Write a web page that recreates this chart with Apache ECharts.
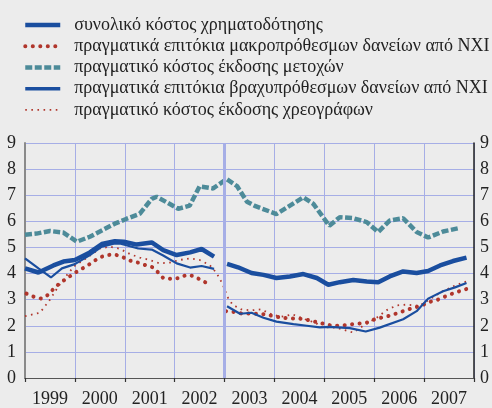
<!DOCTYPE html>
<html>
<head>
<meta charset="utf-8">
<script src="https://cdn.jsdelivr.net/npm/echarts@6/dist/echarts.min.js"></script>
<style>
html,body{margin:0;padding:0;background:#ECECEC;}
#c{width:492px;height:408px;}
</style>
</head>
<body>
<div id="c"></div>
<script>
// Year labels (x axis) and y ticks
var years = ['1999','2000','2001','2002','2003','2004','2005','2006','2007'];
var yTicks = [0,1,2,3,4,5,6,7,8,9];

var seriesNames = [
  'συνολικό κόστος χρηματοδότησης',
  'πραγματικά επιτόκια μακροπρόθεσμων δανείων από ΝΧΙ',
  'πραγματικό κόστος έκδοσης μετοχών',
  'πραγματικά επιτόκια βραχυπρόθεσμων δανείων από ΝΧΙ',
  'πραγματικό κόστος έκδοσης χρεογράφων'
];

// null value = series break (2003 methodological break)
var totalT = [1999.00,1999.27,1999.57,1999.77,2000.00,2000.30,2000.54,2000.80,2000.98,2001.24,2001.54,2001.77,2002.04,2002.31,2002.54,2002.79,2002.9,
              2003.05,2003.27,2003.54,2003.78,2004.04,2004.31,2004.58,2004.85,2005.08,2005.31,2005.58,2005.85,2006.08,2006.31,2006.58,2006.85,2007.08,2007.32,2007.58,2007.85];
var totalV = [4.20,4.04,4.31,4.46,4.52,4.81,5.13,5.24,5.22,5.11,5.19,4.90,4.71,4.81,4.94,4.65,null,
              4.37,4.24,4.02,3.95,3.83,3.89,3.98,3.83,3.57,3.67,3.75,3.70,3.67,3.89,4.08,4.02,4.10,4.31,4.48,4.61];

var longT = [1999.03,1999.18,1999.33,1999.47,1999.57,1999.69,1999.82,1999.96,2000.09,2000.24,2000.37,2000.50,2000.65,2000.80,2000.94,2001.10,2001.25,2001.40,2001.56,2001.67,2001.77,2001.94,2002.09,2002.24,2002.37,2002.52,2002.66,2002.85,
             2003.03,2003.19,2003.34,2003.51,2003.66,2003.82,2003.98,2004.14,2004.30,2004.46,2004.61,2004.76,2004.92,2005.08,2005.24,2005.40,2005.55,2005.71,2005.88,2006.01,2006.18,2006.35,2006.48,2006.65,2006.78,2006.95,2007.08,2007.25,2007.38,2007.55,2007.70,2007.85];
var longV = [3.23,3.11,3.04,3.19,3.41,3.62,3.79,3.98,4.13,4.29,4.46,4.62,4.71,4.73,4.65,4.50,4.43,4.33,4.24,4.04,3.83,3.79,3.83,3.95,3.91,3.76,3.62,null,
             2.56,2.53,2.47,2.47,2.46,2.44,2.37,2.31,2.28,2.28,2.25,2.18,2.11,2.03,2.00,2.02,2.06,2.09,2.13,2.25,2.33,2.40,2.50,2.60,2.69,2.77,2.90,2.98,3.09,3.22,3.32,3.41];

var sharesT = [1999.00,1999.23,1999.50,1999.77,2000.04,2000.30,2000.57,2000.80,2001.04,2001.30,2001.54,2001.64,2001.84,2002.07,2002.30,2002.50,2002.77,2003.04,2003.25,2003.45,2003.62,2004.04,2004.58,2004.78,2005.10,2005.31,2005.58,2005.85,2006.08,2006.31,2006.58,2006.85,2007.08,2007.38,2007.72];
var sharesV = [5.49,5.53,5.63,5.57,5.22,5.41,5.68,5.91,6.10,6.29,6.86,6.94,6.73,6.48,6.60,7.34,7.26,7.62,7.35,6.75,6.58,6.28,6.92,6.67,5.83,6.16,6.12,5.97,5.59,6.03,6.12,5.59,5.38,5.61,5.75];

var shortT = [1999.00,1999.27,1999.52,1999.74,2000.00,2000.30,2000.54,2000.80,2000.90,2001.27,2001.54,2001.77,2002.04,2002.31,2002.54,2002.79,2002.9,
              2003.05,2003.31,2003.54,2003.78,2004.04,2004.38,2004.65,2004.91,2005.11,2005.51,2005.83,2006.11,2006.58,2006.85,2007.08,2007.38,2007.62,2007.85];
var shortV = [4.58,4.20,3.85,4.20,4.36,4.71,5.03,5.15,5.15,4.96,4.92,4.69,4.39,4.23,4.29,4.18,null,
              2.75,2.46,2.50,2.31,2.16,2.06,2.00,1.94,1.96,1.91,1.78,1.93,2.25,2.56,3.04,3.32,3.47,3.64];

var secT = [1999.00,1999.30,1999.50,1999.67,1999.80,1999.98,2000.24,2000.50,2000.70,2000.90,2001.10,2001.30,2001.50,2001.70,2001.90,2002.10,2002.30,2002.50,2002.70,2002.84,2002.96,2003.06,2003.16,2003.33,2003.53,2003.73,2003.93,2004.13,2004.36,2004.61,2004.84,2004.91,2005.24,2005.58,2005.78,2006.05,2006.25,2006.45,2006.65,2006.90,2007.10,2007.37,2007.63,2007.85];
var secV = [2.37,2.50,3.00,3.51,3.85,4.27,4.60,4.96,5.03,4.95,4.75,4.61,4.52,4.39,4.42,4.52,4.58,4.52,4.33,4.02,3.60,3.10,2.81,2.63,2.59,2.63,2.45,2.34,2.44,2.25,2.10,1.95,1.93,1.74,2.00,2.31,2.60,2.78,2.81,2.76,3.00,3.32,3.55,3.70];

function pairs(t, v){ return t.map(function(x,i){ return [x, v[i] === null ? '-' : v[i]]; }); }

var BLUE = '#1A4E9F', RED = '#B0362C', TEAL = '#4D8B99';
var GRIDC = '#A6AEE6';
var FONT = "'Liberation Serif','Times New Roman',serif";

var styles = [
  { color: BLUE, width: 4.5, type: 'solid' },
  { color: RED, width: 4, type: [0.1, 7.4], cap: 'round' },
  { color: TEAL, width: 4.5, type: [7, 2.5] },
  { color: BLUE, width: 2.2, type: 'solid' },
  { color: RED, width: 1.8, type: [1.6, 4.5] }
];
var legendWidths = [4.5, 4, 4.5, 3.5, 1.8];

var chart = echarts.init(document.getElementById('c'), null, {renderer:'canvas'});
chart.setOption({
  backgroundColor: '#ECECEC',
  animation: false,
  legend: {
    orient: 'vertical', left: 23, top: 14.5, padding: 0,
    itemWidth: 35, itemHeight: 14, itemGap: 0,
    itemStyle: { opacity: 0 },
    textStyle: { fontFamily: FONT, fontSize: 18, color: '#222', lineHeight: 21.2, padding: [0,0,0,9] },
    data: seriesNames.map(function(n, i){
      return { name: n, lineStyle: { width: legendWidths[i], type: styles[i].type, cap: styles[i].cap || 'butt', color: styles[i].color } };
    })
  },
  grid: { left: 25, right: 18, top: 143, bottom: 27, containLabel: false },
  xAxis: [{
    type: 'value', min: 1999, max: 2008, interval: 1, offset: 3,
    axisLine: { show: true, lineStyle: { color: '#555', width: 1 } },
    axisTick: { show: true, length: 4, lineStyle: { color: '#333', width: 1.2 } },
    axisLabel: { show: false },
    splitLine: { show: true, lineStyle: { color: GRIDC, width: 1 } }
  }, {
    type: 'category', data: years, boundaryGap: true, position: 'bottom',
    axisLine: { show: false }, axisTick: { show: false }, splitLine: { show: false },
    axisLabel: { margin: 12, fontFamily: FONT, fontSize: 18, color: '#222' }
  }],
  yAxis: [{
    type: 'value', min: yTicks[0], max: yTicks[yTicks.length-1], interval: 1, position: 'left',
    axisLine: { show: true, lineStyle: { color: '#8A8A8A', width: 2 } },
    axisTick: { show: false },
    axisLabel: { margin: 9, fontFamily: FONT, fontSize: 18, color: '#222' },
    splitLine: { show: true, lineStyle: { color: GRIDC, width: 1 } }
  }, {
    type: 'value', min: yTicks[0], max: yTicks[yTicks.length-1], interval: 1, position: 'right',
    axisLine: { show: true, lineStyle: { color: '#222', width: 1.5 } },
    axisTick: { show: false },
    axisLabel: { margin: 6, fontFamily: FONT, fontSize: 18, color: '#222' },
    splitLine: { show: false }
  }],
  series: [
    { name: seriesNames[0], type: 'line', symbol: 'none', data: pairs(totalT, totalV), connectNulls: false,
      lineStyle: styles[0], itemStyle: { color: BLUE, opacity: 0 }, z: 5,
      markLine: { silent: true, symbol: 'none', label: { show: false },
        lineStyle: { color: GRIDC, width: 3, type: 'solid', opacity: 1 }, data: [{ xAxis: 2003 }] } },
    { name: seriesNames[1], type: 'line', symbol: 'none', data: pairs(longT, longV), connectNulls: false,
      lineStyle: styles[1], itemStyle: { color: RED, opacity: 0 }, z: 4 },
    { name: seriesNames[2], type: 'line', symbol: 'none', data: pairs(sharesT, sharesV),
      lineStyle: styles[2], itemStyle: { color: TEAL, opacity: 0 }, z: 3 },
    { name: seriesNames[3], type: 'line', symbol: 'none', data: pairs(shortT, shortV), connectNulls: false,
      lineStyle: styles[3], itemStyle: { color: BLUE, opacity: 0 }, z: 5 },
    { name: seriesNames[4], type: 'line', symbol: 'none', data: pairs(secT, secV),
      lineStyle: styles[4], itemStyle: { color: RED, opacity: 0 }, z: 4 }
  ]
});
</script>
</body>
</html>
